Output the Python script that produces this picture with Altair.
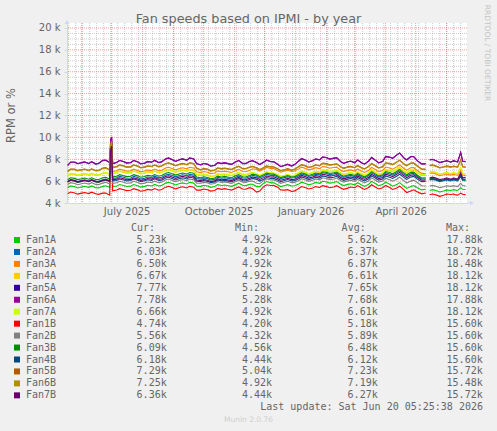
import altair as alt
import pandas as pd
import numpy as np

# ---------------- data (values in thousands of RPM) ----------------
dates = ["2025-05-18","2025-05-25","2025-06-01","2025-06-08","2025-06-15","2025-06-22","2025-06-29",
         "2025-06-30","2025-07-01","2025-07-02",
         "2025-07-06","2025-07-13","2025-07-20","2025-07-27","2025-08-03","2025-08-10","2025-08-17",
         "2025-08-24","2025-08-31","2025-09-07","2025-09-14","2025-09-21","2025-09-28","2025-10-05",
         "2025-10-12","2025-10-19","2025-10-26","2025-11-02","2025-11-09","2025-11-16","2025-11-23",
         "2025-11-30","2025-12-07","2025-12-14","2025-12-21","2025-12-28","2026-01-04","2026-01-11",
         "2026-01-18","2026-01-25","2026-02-01","2026-02-08","2026-02-15","2026-02-22","2026-03-01",
         "2026-03-08","2026-03-15","2026-03-22","2026-03-29","2026-04-05","2026-04-12","2026-04-19",
         "2026-04-26","2026-05-03","2026-05-11",
         "2026-05-15","2026-05-22","2026-05-29","2026-06-05","2026-06-10","2026-06-15","2026-06-20"]

mid_dates = ["2025-05-21","2025-05-28","2025-06-04","2025-06-11","2025-06-18","2025-06-25",
             "2025-07-09","2025-07-16","2025-07-23","2025-07-30","2025-08-06","2025-08-13","2025-08-20","2025-08-27",
             "2025-09-03","2025-09-10","2025-09-17","2025-09-24","2025-10-01","2025-10-08","2025-10-15",
             "2025-10-22","2025-10-29","2025-11-05","2025-11-12","2025-11-19","2025-11-26","2025-12-03",
             "2025-12-10","2025-12-17","2025-12-24","2025-12-31","2026-01-07","2026-01-14","2026-01-21",
             "2026-01-28","2026-02-04","2026-02-11","2026-02-18","2026-02-25","2026-03-04","2026-03-11",
             "2026-03-18","2026-03-25","2026-04-01","2026-04-08","2026-04-15","2026-04-22","2026-04-29",
             "2026-05-07","2026-05-18","2026-05-25","2026-06-01","2026-06-08","2026-06-12","2026-06-17"]

fan1a = [5.40,5.48,5.46,5.43,5.40,5.52,5.44,8.10,8.40,5.50, 5.55,5.60,5.54,5.58,5.52,5.56,5.55,5.82,5.76,5.78,
         5.74,5.82,5.52,5.56,5.50,5.60,5.58,5.68,5.62,5.72, 5.50,5.82,5.86,5.66,5.60,5.56,5.74,5.78,5.76,5.80,
         5.92,5.88,5.72,5.70,5.66,5.64,5.72,5.76,5.70,5.72, 5.68,5.55,5.50,5.38,5.25,5.15,5.12,5.10,5.14,5.18,
         5.40,5.23]
fan1a_mid = [5.56,5.37,5.53,5.56,5.38,5.58,5.69,5.51,5.69,5.45, 5.62,5.70,5.61,5.89,5.65,5.84,5.89,5.53,5.62,5.43,
             5.68,5.65,5.52,5.81,5.59,5.71,5.50,5.96,5.84,5.50, 5.68,5.57,5.90,5.66,5.88,5.99,5.82,5.96,5.59,5.76,
             5.85,5.52,5.98,5.59,5.91,5.54,5.86,5.33,5.60,5.20, 5.22,5.01,5.20,5.22,5.15,5.25]
fan2a = [5.98,6.08,6.06,6.02,6.00,6.12,6.05,8.80,9.10,6.25, 6.30,6.35,6.29,6.33,6.27,6.31,6.30,6.56,6.50,6.52,
         6.48,6.56,6.18,6.22,6.16,6.26,6.24,6.34,6.28,6.40, 6.44,6.46,6.52,6.38,6.32,6.28,6.50,6.54,6.52,6.56,
         6.70,6.66,6.48,6.46,6.42,6.40,6.50,6.54,6.48,6.66, 6.76,6.64,6.68,6.42,6.20,6.10,6.06,6.04,6.02,6.05,
         6.40,6.03]
fan2a_mid = [6.15,5.97,6.12,6.15,5.98,6.19,6.44,6.26,6.44,6.20, 6.37,6.45,6.35,6.63,6.39,6.58,6.63,6.23,6.28,6.09,
             6.34,6.31,6.18,6.47,6.26,6.52,6.29,6.61,6.53,6.22, 6.40,6.31,6.66,6.42,6.64,6.76,6.60,6.73,6.35,6.52,
             6.61,6.29,6.76,6.37,6.77,6.55,6.94,6.46,6.71,6.19, 6.16,5.95,6.11,6.10,6.02,6.05]
fan3a = [5.90,6.00,5.98,5.94,5.92,6.02,5.96,9.10,9.40,6.88, 6.95,7.00,6.94,6.98,6.92,6.96,6.95,7.20,7.14,7.16,
         7.12,7.20,6.78,6.82,6.75,6.86,6.84,6.96,6.88,7.00, 7.06,7.10,7.16,6.98,6.92,6.88,7.12,7.16,7.12,7.14,
         7.28,7.24,7.00,6.98,6.92,6.90,7.00,7.04,6.98,7.20, 7.30,7.18,7.22,6.95,6.70,6.72,6.62,6.58,6.55,6.58,
         7.00,6.50]
fan3a_mid = [6.07,5.89,6.04,6.07,5.89,6.09,7.09,6.91,7.09,6.85, 7.02,7.10,7.00,7.27,7.03,7.22,7.27,6.85,6.88,6.69,
             6.94,6.91,6.79,7.08,6.86,7.13,6.92,7.25,7.15,6.82, 7.00,6.92,7.28,7.03,7.23,7.34,7.18,7.28,6.87,7.03,
             7.11,6.79,7.26,6.87,7.29,7.09,7.48,7.00,7.25,6.71, 6.75,6.50,6.65,6.63,6.55,6.55]
fan4a = [6.45,6.62,6.60,6.55,6.52,6.70,6.60,8.90,9.20,6.70, 6.74,6.80,6.74,6.78,6.71,6.76,6.74,6.96,6.90,6.92,
         6.88,6.96,6.50,6.52,6.47,6.56,6.55,6.65,6.57,6.68, 6.62,6.65,6.70,6.55,6.48,6.45,6.72,6.76,6.74,6.78,
         6.92,6.90,6.70,6.69,6.64,6.62,6.72,6.76,6.70,6.94, 7.06,6.92,6.98,6.75,6.55,6.82,6.74,6.72,6.69,6.72,
         7.20,6.67]
fan4a_mid = [6.66,6.52,6.66,6.68,6.54,6.75,6.89,6.72,6.90,6.66, 6.83,6.90,6.78,7.04,6.80,6.99,7.04,6.60,6.60,6.40,
             6.65,6.62,6.49,6.77,6.55,6.76,6.48,6.80,6.71,6.39, 6.57,6.51,6.89,6.65,6.87,6.99,6.84,6.97,6.59,6.76,
             6.84,6.52,6.99,6.60,7.03,6.85,7.24,6.76,7.03,6.53, 6.85,6.61,6.75,6.73,6.66,6.68]
fan5a = [7.43,7.73,7.68,7.60,7.56,7.88,7.70,9.78,10.00,7.58, 7.70,7.78,7.68,7.76,7.63,7.73,7.68,8.03,7.93,7.96,
         7.90,8.03,7.48,7.53,7.43,7.60,7.58,7.76,7.60,7.80, 7.68,7.73,7.78,7.53,7.43,7.38,7.83,7.90,7.86,7.93,
         8.13,8.08,7.78,7.76,7.68,7.66,7.83,7.88,7.80,8.18, 8.38,8.13,8.23,7.83,7.58,7.93,7.83,7.78,7.73,7.80,
         8.60,7.77]
fan5a_mid = [7.73,7.59,7.74,7.76,7.62,7.91,7.88,7.65,7.88,7.58, 7.78,7.89,7.76,8.10,7.80,8.03,8.11,7.58,7.61,7.36,
             7.68,7.67,7.53,7.88,7.60,7.86,7.51,7.91,7.76,7.32, 7.53,7.51,8.05,7.74,8.02,8.19,8.01,8.13,7.62,7.82,
             7.92,7.55,8.16,7.66,8.24,8.08,8.56,7.93,8.23,7.56, 7.98,7.69,7.86,7.85,7.75,7.81]
fan6a = [7.45,7.75,7.70,7.62,7.58,7.90,7.72,9.80,10.05,7.60, 7.72,7.80,7.70,7.78,7.65,7.75,7.70,8.05,7.95,7.98,
         7.92,8.05,7.50,7.55,7.45,7.62,7.60,7.78,7.62,7.82, 7.70,7.75,7.80,7.55,7.45,7.40,7.85,7.92,7.88,7.95,
         8.15,8.10,7.80,7.78,7.70,7.68,7.85,7.90,7.82,8.20, 8.40,8.15,8.25,7.85,7.60,7.95,7.85,7.80,7.75,7.82,
         8.65,7.78]
fan6a_mid = [7.75,7.61,7.76,7.78,7.64,7.93,7.90,7.67,7.90,7.60, 7.80,7.91,7.78,8.12,7.82,8.05,8.13,7.60,7.63,7.38,
             7.70,7.69,7.55,7.90,7.62,7.88,7.53,7.93,7.78,7.34, 7.55,7.53,8.07,7.76,8.04,8.21,8.03,8.15,7.64,7.84,
             7.94,7.57,8.18,7.68,8.26,8.10,8.58,7.95,8.25,7.58, 8.00,7.71,7.88,7.87,7.77,7.83]
fan7a = [6.50,6.68,6.65,6.60,6.58,6.75,6.64,9.00,9.30,6.75, 6.80,6.86,6.80,6.84,6.77,6.82,6.80,7.02,6.96,6.98,
         6.94,7.02,6.55,6.58,6.52,6.62,6.60,6.70,6.62,6.74, 6.68,6.70,6.76,6.60,6.54,6.50,6.78,6.82,6.80,6.84,
         6.98,6.95,6.76,6.75,6.70,6.68,6.78,6.82,6.76,7.00, 7.12,6.98,7.04,6.80,6.60,6.85,6.78,6.74,6.70,6.74,
         7.25,6.66]
fan7a_mid = [6.71,6.57,6.71,6.73,6.59,6.80,6.94,6.77,6.95,6.71, 6.88,6.95,6.83,7.09,6.85,7.04,7.09,6.65,6.65,6.45,
             6.70,6.67,6.54,6.82,6.60,6.81,6.53,6.85,6.76,6.44, 6.62,6.56,6.94,6.70,6.92,7.04,6.89,7.02,6.64,6.81,
             6.89,6.57,7.04,6.65,7.08,6.90,7.29,6.81,7.08,6.58, 6.90,6.66,6.80,6.78,6.70,6.70]
fan1b = [4.85,4.92,4.90,4.86,4.84,4.90,4.72,7.90,8.20,5.12, 5.18,5.22,5.16,5.20,5.14,5.18,5.17,5.45,5.40,5.42,
         5.38,5.45,5.18,5.22,5.15,5.25,5.24,5.34,5.28,5.40, 5.00,5.50,5.60,5.45,5.18,5.05,5.32,5.40,5.38,5.42,
         5.50,5.46,5.38,5.36,5.40,5.38,5.42,5.44,5.40,5.42, 5.38,5.22,5.10,5.00,4.92,4.75,4.72,4.70,4.78,4.74,
         4.90,4.74]
fan1b_mid = [5.00,4.81,4.96,4.99,4.79,4.91,5.31,5.13,5.31,5.07, 5.24,5.32,5.23,5.53,5.29,5.48,5.53,5.18,5.28,5.09,
             5.33,5.31,5.18,5.47,5.26,5.30,5.09,5.67,5.61,5.19, 5.22,5.11,5.50,5.28,5.50,5.59,5.40,5.58,5.25,5.46,
             5.59,5.24,5.67,5.28,5.61,5.24,5.54,4.96,5.21,4.84, 4.82,4.61,4.82,4.82,4.72,4.80]
fan2b = [5.70,5.78,5.76,5.73,5.70,5.82,5.75,8.40,8.70,5.80, 5.85,5.90,5.84,5.88,5.82,5.86,5.85,6.12,6.06,6.08,
         6.04,6.12,5.80,5.84,5.78,5.88,5.86,5.96,5.90,6.00, 5.80,6.04,6.10,5.96,5.90,5.86,6.05,6.10,6.08,6.12,
         6.24,6.20,6.04,6.02,5.98,5.96,6.04,6.08,6.02,6.12, 6.18,6.05,6.00,5.85,5.55,5.55,5.50,5.48,5.52,5.54,
         5.80,5.56]
fan2b_mid = [5.86,5.67,5.83,5.86,5.68,5.89,5.99,5.81,5.99,5.75, 5.92,6.00,5.91,6.19,5.95,6.14,6.19,5.82,5.90,5.71,
             5.96,5.93,5.80,6.09,5.87,6.00,5.76,6.19,6.11,5.80, 5.98,5.88,6.22,5.98,6.20,6.31,6.14,6.28,5.91,6.08,
             6.17,5.84,6.30,5.91,6.27,5.99,6.36,5.83,6.09,5.58, 5.61,5.39,5.58,5.59,5.50,5.60]
fan3b = [6.12,6.25,6.22,6.18,6.15,6.30,6.20,8.70,9.00,6.40, 6.45,6.50,6.44,6.48,6.42,6.46,6.45,6.72,6.66,6.68,
         6.64,6.72,6.30,6.34,6.28,6.38,6.36,6.48,6.40,6.52, 6.56,6.58,6.64,6.48,6.42,6.38,6.60,6.64,6.62,6.66,
         6.80,6.76,6.58,6.56,6.52,6.50,6.60,6.64,6.58,6.78, 6.88,6.76,6.80,6.52,6.30,6.22,6.15,6.12,6.10,6.14,
         6.55,6.09]
fan3b_mid = [6.31,6.14,6.28,6.31,6.15,6.35,6.59,6.41,6.59,6.35, 6.52,6.60,6.51,6.79,6.55,6.74,6.79,6.37,6.40,6.21,
             6.46,6.43,6.31,6.60,6.38,6.64,6.41,6.73,6.64,6.32, 6.50,6.41,6.76,6.52,6.74,6.86,6.70,6.83,6.45,6.62,
             6.71,6.39,6.86,6.47,6.88,6.67,7.06,6.58,6.82,6.29, 6.27,6.04,6.19,6.18,6.10,6.12]
fan4b = [5.92,6.00,5.98,5.95,5.93,6.03,5.97,8.60,8.90,6.02, 6.06,6.10,6.05,6.08,6.03,6.07,6.06,6.28,6.22,6.24,
         6.20,6.28,5.95,5.98,5.93,6.02,6.00,6.10,6.04,6.14, 6.16,6.18,6.24,6.10,6.05,6.02,6.22,6.26,6.24,6.28,
         6.40,6.36,6.20,6.18,6.14,6.12,6.22,6.26,6.20,6.36, 6.45,6.34,6.38,6.16,5.98,6.15,6.12,6.10,6.10,6.14,
         6.50,6.18]
fan4b_mid = [6.08,5.89,6.05,6.08,5.90,6.10,6.19,6.02,6.20,5.96, 6.13,6.21,6.09,6.35,6.11,6.30,6.35,5.98,6.05,5.86,
             6.11,6.07,5.94,6.23,6.01,6.25,6.01,6.33,6.25,5.95, 6.14,6.04,6.38,6.14,6.36,6.47,6.30,6.44,6.07,6.24,
             6.33,6.01,6.48,6.09,6.48,6.25,6.64,6.16,6.43,5.95, 6.22,6.01,6.18,6.18,6.10,6.16]
fan5b = [6.90,7.10,7.05,7.00,6.98,7.20,7.05,9.40,9.70,7.26, 7.34,7.40,7.32,7.38,7.30,7.36,7.33,7.62,7.55,7.57,
         7.52,7.62,7.05,7.10,7.02,7.14,7.12,7.26,7.15,7.30, 7.22,7.24,7.32,7.14,7.06,7.02,7.34,7.40,7.36,7.42,
         7.60,7.55,7.32,7.30,7.24,7.22,7.36,7.40,7.34,7.62, 7.76,7.60,7.66,7.36,7.10,7.44,7.36,7.32,7.30,7.34,
         7.95,7.29]
fan5b_mid = [7.11,6.98,7.11,7.13,7.00,7.23,7.48,7.30,7.49,7.24, 7.41,7.49,7.40,7.68,7.43,7.62,7.68,7.19,7.15,6.96,
             7.21,7.19,7.08,7.37,7.15,7.36,7.07,7.40,7.31,6.97, 7.14,7.10,7.51,7.27,7.49,7.64,7.49,7.59,7.19,7.35,
             7.43,7.13,7.62,7.23,7.68,7.53,7.92,7.43,7.67,7.11, 7.48,7.24,7.39,7.38,7.30,7.34]
fan6b = [6.85,7.05,7.02,6.96,6.93,7.15,7.02,9.30,9.60,7.22, 7.30,7.36,7.28,7.35,7.25,7.32,7.30,7.58,7.50,7.52,
         7.48,7.58,7.00,7.05,6.98,7.10,7.08,7.22,7.12,7.25, 7.18,7.20,7.28,7.10,7.02,6.98,7.30,7.36,7.32,7.38,
         7.55,7.50,7.28,7.26,7.20,7.18,7.32,7.36,7.30,7.58, 7.72,7.55,7.62,7.32,7.05,7.40,7.32,7.28,7.25,7.30,
         7.90,7.25]
fan6b_mid = [7.07,6.94,7.07,7.09,6.96,7.19,7.44,7.26,7.45,7.20, 7.37,7.45,7.36,7.64,7.39,7.58,7.64,7.15,7.11,6.92,
             7.17,7.15,7.04,7.33,7.11,7.32,7.03,7.36,7.27,6.93, 7.10,7.06,7.47,7.23,7.45,7.60,7.45,7.55,7.15,7.31,
             7.39,7.09,7.58,7.19,7.64,7.49,7.88,7.39,7.63,7.07, 7.44,7.20,7.35,7.34,7.26,7.30]
fan7b = [5.95,6.05,6.02,5.98,5.96,6.08,6.00,8.90,9.20,6.12, 6.18,6.22,6.16,6.20,6.14,6.18,6.17,6.42,6.36,6.38,
         6.34,6.42,6.05,6.08,6.02,6.12,6.10,6.22,6.14,6.26, 6.30,6.32,6.38,6.24,6.18,6.14,6.36,6.40,6.38,6.42,
         6.56,6.52,6.34,6.32,6.28,6.26,6.36,6.40,6.34,6.52, 6.62,6.50,6.54,6.30,6.10,6.30,6.25,6.22,6.20,6.24,
         6.75,6.36]
fan7b_mid = [6.12,5.94,6.08,6.11,5.94,6.14,6.31,6.13,6.31,6.07, 6.24,6.32,6.22,6.49,6.25,6.44,6.49,6.10,6.15,5.95,
             6.20,6.17,6.05,6.34,6.12,6.38,6.15,6.47,6.39,6.08, 6.26,6.17,6.52,6.28,6.50,6.62,6.46,6.59,6.21,6.38,
             6.47,6.15,6.62,6.23,6.63,6.41,6.80,6.32,6.58,6.08, 6.36,6.14,6.29,6.28,6.20,6.30]

names = ["Fan1A", "Fan2A", "Fan3A", "Fan4A", "Fan5A", "Fan6A", "Fan7A",
         "Fan1B", "Fan2B", "Fan3B", "Fan4B", "Fan5B", "Fan6B", "Fan7B"]
colors = ["#00CC00", "#0066B3", "#FF8000", "#FFCC00", "#330099", "#990099", "#CCFF00",
          "#FF0000", "#808080", "#008F00", "#00487D", "#B35A00", "#B38F00", "#6B006B"]
cur_vals = ["5.23k", "6.03k", "6.50k", "6.67k", "7.77k", "7.78k", "6.66k",
            "4.74k", "5.56k", "6.09k", "6.18k", "7.29k", "7.25k", "6.36k"]
min_vals = ["4.92k", "4.92k", "4.92k", "4.92k", "5.28k", "5.28k", "4.92k",
            "4.20k", "4.32k", "4.56k", "4.44k", "5.04k", "4.92k", "4.44k"]
avg_vals = ["5.62k", "6.37k", "6.87k", "6.61k", "7.65k", "7.68k", "6.61k",
            "5.18k", "5.89k", "6.48k", "6.12k", "7.23k", "7.19k", "6.27k"]
max_vals = ["17.88k", "18.72k", "18.48k", "18.12k", "18.12k", "17.88k", "18.12k",
            "15.60k", "15.60k", "15.60k", "15.60k", "15.72k", "15.48k", "15.72k"]

y_ticks = [4, 6, 8, 10, 12, 14, 16, 18, 20]
gap_after = "2026-05-12"

title_text = "Fan speeds based on IPMI - by year"
ylab = "RPM or %"
last_update = "Last update: Sat Jun 20 05:25:38 2026"
watermark = "Munin 2.0.76"
signature = "RRDTOOL / TOBI OETIKER"

# ---------------- build tables ----------------
weekly = [fan1a, fan2a, fan3a, fan4a, fan5a, fan6a, fan7a,
          fan1b, fan2b, fan3b, fan4b, fan5b, fan6b, fan7b]
mids = [fan1a_mid, fan2a_mid, fan3a_mid, fan4a_mid, fan5a_mid, fan6a_mid, fan7a_mid,
        fan1b_mid, fan2b_mid, fan3b_mid, fan4b_mid, fan5b_mid, fan6b_mid, fan7b_mid]
rows = []
for nm, wv, mv in zip(names, weekly, mids):
    for d, v in list(zip(dates, wv)) + list(zip(mid_dates, mv)):
        rows.append({"date": d + "T00:00:00", "fan": nm, "k": v,
                     "seg": 0 if d < gap_after else 1})
df = pd.DataFrame(rows).sort_values(["fan", "date"]).reset_index(drop=True)

leg = pd.DataFrame({"fan": names, "cur": cur_vals, "mn": min_vals,
                    "avg": avg_vals, "mx": max_vals, "row": list(range(len(names)))})

week_lines = pd.DataFrame({"date": [t.strftime("%Y-%m-%dT00:00:00")
                                    for t in pd.date_range("2025-05-19", "2026-06-15", freq="7D")]})
month_lines = pd.DataFrame({"date": [t.strftime("%Y-%m-%dT00:00:00")
                                     for t in pd.date_range("2025-06-01", "2026-06-01", freq="MS")]})
minor_y = pd.DataFrame({"k": [v for v in np.arange(4.5, 20.01, 0.5) if v % 2 != 0]})
major_y = pd.DataFrame({"k": [v for v in y_ticks if v > 4]})

FONT = "DejaVu Sans"
MONO = "DejaVu Sans Mono"
TXT = "#666666"
AXISC = "#CFD6F8"

xscale = alt.Scale(domain=[alt.DateTime(year=2025, month=5, date=17, hours=8),
                           alt.DateTime(year=2026, month=6, date=21, hours=8)])
yscale = alt.Scale(domain=[4, 20.457], nice=False, zero=False)
cscale = alt.Scale(domain=names, range=colors)

xaxis = alt.Axis(values=[alt.DateTime(year=2025, month=7, date=16),
                         alt.DateTime(year=2025, month=10, date=16),
                         alt.DateTime(year=2026, month=1, date=16),
                         alt.DateTime(year=2026, month=4, date=16)],
                 format="%B %Y", title=None, ticks=False, labelPadding=3,
                 labelFont=FONT, labelFontSize=10, labelColor=TXT,
                 labelOverlap=False, labelFlush=False, labelBound=False,
                 domainColor=AXISC, grid=False)
yaxis = alt.Axis(values=y_ticks, labelExpr="datum.value + ' k'", title=ylab,
                 tickSize=3, tickColor=AXISC, labelPadding=4,
                 labelFont=FONT, labelFontSize=10, labelColor=TXT,
                 titleFont=FONT, titleFontSize=11.5, titleColor=TXT, titleFontWeight="normal",
                 titleX=-56, titleY=92, titleAngle=270, titleAlign="center",
                 titleBaseline="middle",
                 domainColor=AXISC, grid=False, labelOverlap=False, labelFlush=False)

X = alt.X("date:T", scale=xscale, axis=xaxis)
Y = alt.Y("k:Q", scale=yscale, axis=yaxis)

# grids
g_week = alt.Chart(week_lines).mark_rule(color="#8F8F8F", strokeWidth=1, strokeDash=[1, 1], opacity=0.45).encode(x=X)
g_minor = alt.Chart(minor_y).mark_rule(color="#8F8F8F", strokeWidth=1, strokeDash=[1, 1], opacity=0.45).encode(y=Y)
g_month = alt.Chart(month_lines).mark_rule(color="#DE4F4F", strokeWidth=1, strokeDash=[1, 1], opacity=0.55).encode(x=X)
g_major = alt.Chart(major_y).mark_rule(color="#DE4F4F", strokeWidth=1, strokeDash=[1, 1], opacity=0.55).encode(y=Y)

# one line layer per fan, in legend order (later ones drawn on top)
line_layers = []
for nm in names:
    line_layers.append(
        alt.Chart(df).transform_filter(alt.datum.fan == nm).mark_line(strokeWidth=1.1, interpolate="linear").encode(
            x=X, y=Y,
            color=alt.Color("fan:N", scale=cscale, legend=None),
            detail="seg:N",
        )
    )

one = pd.DataFrame({"a": [0]})
arrows = [
    alt.Chart(one).mark_rule(color=AXISC).encode(x=alt.value(400), x2=alt.value(404), y=alt.value(180)),
    alt.Chart(one).mark_point(shape="triangle-right", filled=True, size=22, color=AXISC, opacity=1).encode(
        x=alt.value(405), y=alt.value(180)),
    alt.Chart(one).mark_point(shape="triangle-up", filled=True, size=22, color=AXISC, opacity=1).encode(
        x=alt.value(0), y=alt.value(-1)),
]

title_l = alt.Chart(one).mark_text(font=FONT, fontSize=12.8, color=TXT, align="center", baseline="middle").encode(
    x=alt.value(181.5), y=alt.value(-4), text=alt.value(title_text))
sig_l = alt.Chart(one).mark_text(font=FONT, fontSize=7.5, color="#C4C4C4", align="center", baseline="middle",
                                 angle=90).encode(
    x=alt.value(420), y=alt.value(30), text=alt.value(signature))
wm_l = alt.Chart(one).mark_text(font=FONT, fontSize=7.5, color="#CFCFCF", align="center", baseline="middle").encode(
    x=alt.value(181.5), y=alt.value(397), text=alt.value(watermark))
upd_l = alt.Chart(one).mark_text(font=MONO, fontSize=10, color=TXT, align="right", baseline="middle").encode(
    x=alt.value(416), y=alt.value(384.3), text=alt.value(last_update))

headers = []
for htxt, hx in [("Cur:", 88), ("Min:", 192), ("Avg:", 298.7), ("Max:", 403)]:
    headers.append(alt.Chart(one).mark_text(font=MONO, fontSize=10, color=TXT, align="right",
                                            baseline="middle").encode(
        x=alt.value(hx), y=alt.value(204.7), text=alt.value(htxt)))

legbase = alt.Chart(leg).transform_calculate(py="217 + 11.95 * datum.row")
ypix = alt.Y("py:Q", scale=None, axis=None)
leg_sq = legbase.mark_square(size=36, filled=True, opacity=1).encode(
    x=alt.value(-50), y=ypix, color=alt.Color("fan:N", scale=cscale, legend=None))
leg_cols = [legbase.mark_text(font=MONO, fontSize=10, color=TXT, align="left", baseline="middle").encode(
    x=alt.value(-41), y=ypix, text="fan:N")]
for fld, xr in [("cur", 99.7), ("mn", 205), ("avg", 310.7), ("mx", 415.7)]:
    leg_cols.append(legbase.mark_text(font=MONO, fontSize=10, color=TXT, align="right", baseline="middle").encode(
        x=alt.value(xr), y=ypix, text=f"{fld}:N"))

chart = alt.layer(
    g_week, g_minor, g_month, g_major, *line_layers, *arrows, title_l, sig_l, wm_l, upd_l,
    *headers, leg_sq, *leg_cols
).properties(
    width=400, height=180,
    autosize=alt.AutoSizeParams(type="none"),
    padding={"left": 67, "top": 23, "right": 30, "bottom": 228},
    background="#F0F0F0",
).configure_view(fill="white", stroke=None)

chart.save("out.html", embed_options={"renderer": "svg", "actions": False})
